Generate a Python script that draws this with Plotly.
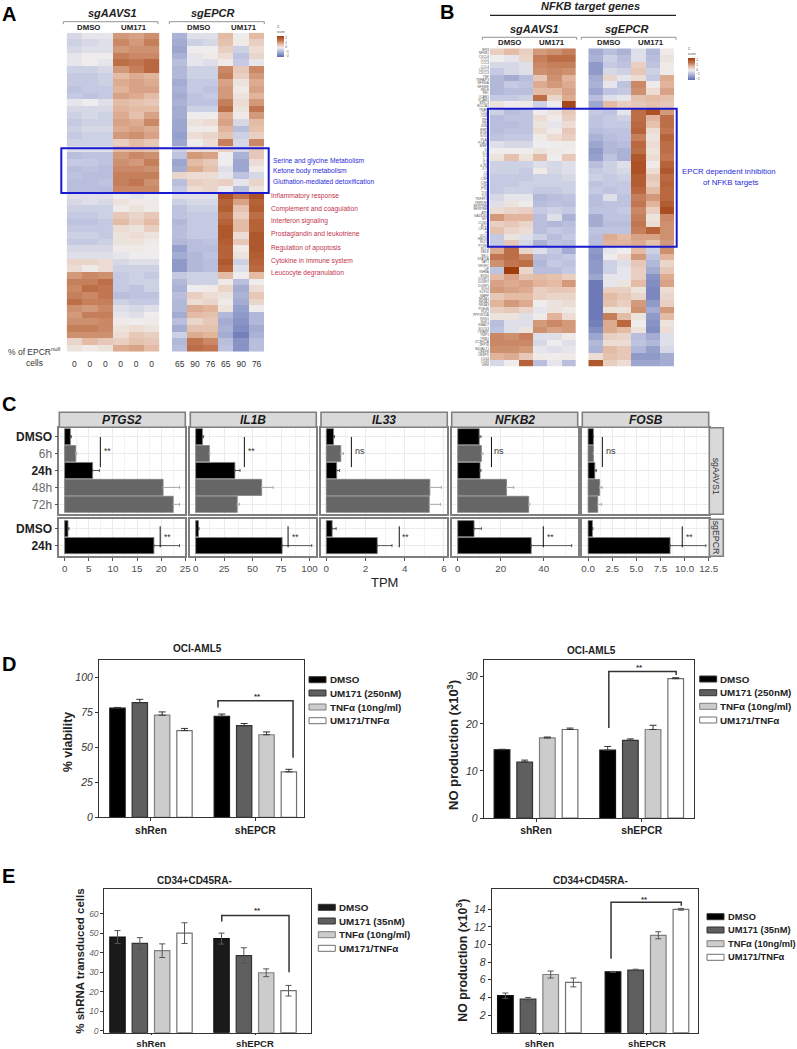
import numpy as np
import plotly.graph_objects as go

W, H = 797, 1049

# ---------- Panel A heatmap values (z-scores) ----------
A_AAVS = [
[-0.5,-0.3,-0.3,1.0,0.9,1.1],[-0.6,-0.5,-0.4,1.2,1.0,1.3],[-0.5,-0.4,-0.4,1.0,1.1,1.1],[-0.3,-0.2,-0.2,1.3,1.2,1.2],
[-0.3,-0.2,-0.3,1.5,1.4,1.6],[-0.6,-0.6,-0.5,1.0,1.3,1.6],[-0.7,-0.7,-0.6,0.6,0.8,0.7],[-0.7,-0.7,-0.6,0.8,0.9,0.8],
[-0.8,-0.7,-0.7,0.7,0.9,0.9],[-0.7,-0.8,-0.7,0.9,0.8,0.6],[-0.3,-0.2,-0.4,0.6,0.5,0.4],[-0.5,-0.5,-0.5,0.7,0.6,0.6],
[-0.6,-0.5,-0.6,0.8,0.5,0.9],[-0.7,-0.6,-0.6,0.9,0.8,1.2],[-0.6,-0.5,-0.5,0.8,0.9,0.8],[-0.7,-0.6,-0.6,1.0,1.1,0.9],
[-0.6,-0.6,-0.6,0.3,0.6,0.4],[-0.4,-0.4,-0.4,0.6,0.6,0.5],[-0.9,-0.8,-0.8,1.0,1.2,1.1],[-0.7,-0.7,-0.8,1.1,1.0,1.3],
[-0.9,-0.8,-0.9,1.2,1.2,1.1],[-0.8,-0.9,-0.9,1.3,1.3,1.3],[-0.9,-0.9,-0.8,1.3,1.4,1.1],[-0.9,-0.9,-0.9,1.2,1.2,1.2],
[-0.4,-0.4,-0.4,-0.2,-0.3,-0.2],[-0.5,-0.4,-0.5,0.0,-0.1,-0.1],[-0.6,-0.6,-0.6,-0.1,0.0,-0.1],[-0.7,-0.7,-0.6,0.4,0.2,0.4],
[-0.8,-0.8,-0.7,0.6,0.3,0.6],[-0.7,-0.7,-0.7,0.1,0.0,0.3],[-0.6,-0.6,-0.7,0.0,0.1,0.0],[-0.7,-0.7,-0.6,0.0,0.0,-0.1],
[-0.5,-0.5,-0.5,-0.1,-0.1,-0.2],[-0.4,-0.4,-0.4,-0.3,-0.2,-0.2],[0.2,0.2,0.1,-0.5,-0.4,-0.4],[0.1,-0.1,0.1,-0.6,-0.6,-0.6],
[1.0,1.2,1.1,-0.7,-0.6,-0.7],[1.3,1.3,1.5,-0.7,-0.6,-0.6],[1.2,1.5,1.4,-0.7,-0.8,-0.6],[1.3,1.2,1.4,-0.9,-0.8,-0.8],
[1.5,1.3,1.3,-0.6,-0.7,-0.7],[1.1,1.0,1.2,-0.4,-0.5,-0.4],[1.0,1.3,1.3,-0.3,-0.4,-0.2],[1.1,1.1,1.2,-0.1,-0.2,-0.1],
[1.3,1.3,1.2,0.0,0.1,0.0],[1.1,1.1,1.1,0.1,0.4,0.3],[0.2,0.6,0.4,0.3,0.5,0.4],[0.0,-0.1,0.0,0.8,0.9,0.6]]
A_EPCR = [
[-1.1,-0.4,-0.4,0.6,-0.2,0.6],[-1.2,-0.6,-0.5,0.5,-0.1,0.3],[-1.3,-0.2,-0.2,0.3,-0.6,0.1],[-1.1,-0.3,-0.1,0.1,-0.8,0.2],
[-0.9,-0.3,-0.4,-0.1,-0.7,-0.3],[-1.0,-0.6,-0.6,1.2,0.4,1.2],[-1.0,-0.6,-0.6,1.3,0.3,1.0],[-1.2,-0.7,-0.7,0.9,0.0,0.8],
[-1.1,-0.7,-0.8,1.0,-0.1,0.9],[-1.2,-0.8,-0.7,1.0,0.0,0.7],[-1.1,-0.8,-0.8,1.3,0.1,1.0],[-1.2,-0.6,-0.6,1.5,0.0,1.4],
[-1.2,-0.2,-0.2,0.8,-0.1,1.0],[-1.3,0.0,0.1,0.9,-0.5,0.6],[-1.3,-0.1,-0.1,0.7,-0.9,0.5],[-1.4,0.1,0.2,0.5,-0.6,0.3],
[-1.3,-0.2,0.1,1.3,-0.5,1.2],[-0.6,0.1,0.1,0.3,-0.5,0.4],[-0.8,1.0,0.9,-0.2,-1.1,0.4],[-1.3,0.6,0.4,-0.2,-1.3,0.1],
[-1.2,0.8,0.5,-0.4,-1.3,-0.1],[0.2,0.1,0.1,-0.3,-0.8,-0.5],[-0.9,0.3,0.2,0.3,-0.3,0.2],[-0.7,0.1,0.2,-0.2,-0.9,0.0],
[-0.4,-0.4,-0.4,2.0,1.4,2.0],[-0.6,-0.5,-0.5,1.7,0.9,1.7],[-0.8,-0.6,-0.6,1.8,0.5,1.8],[-0.8,-0.7,-0.7,1.5,0.3,1.5],
[-1.0,-0.7,-0.7,1.7,0.6,1.7],[-0.9,-0.7,-0.7,1.9,0.6,1.7],[-0.9,-0.7,-0.7,1.9,0.1,1.9],[-1.0,-0.9,-0.8,1.8,0.4,1.9],
[-1.4,-0.9,-0.9,1.7,-0.1,1.9],[-1.2,-1.0,-0.8,1.7,0.0,1.8],[-1.5,-1.0,-0.9,1.9,-0.6,1.7],[-1.5,-1.0,-0.9,1.7,-0.4,1.6],
[-0.7,-0.6,-0.6,0.6,-0.2,0.6],[-1.0,-0.6,-0.6,-0.1,-0.9,-0.2],[-1.1,-0.2,-0.1,0.2,-1.2,0.1],[-0.9,0.3,0.1,0.0,-1.1,0.4],
[-1.0,0.1,0.2,-0.1,-1.2,0.2],[-1.0,0.8,0.7,0.0,-1.4,-0.2],[-1.2,0.6,0.5,-1.0,-1.5,-1.0],[-0.9,0.2,0.4,-1.2,-1.6,-1.0],
[-1.2,0.5,0.5,-1.1,-1.7,-1.2],[-0.6,0.8,0.7,-1.2,-1.9,-1.1],[-1.0,1.4,1.2,-0.9,-1.6,-0.9],[-0.9,1.5,1.4,-0.8,-1.6,-0.9]]

# ---------- Panel B heatmap values ----------
B_AAVS = [
[0.3,0.6,0.3,1.0,1.1,1.3],[-0.2,-0.3,0.2,1.3,1.5,1.5],[-0.5,-0.5,-0.4,1.2,1.3,1.3],[-0.7,-0.5,-0.4,1.1,1.2,1.1],
[-1.0,-1.2,-0.9,0.4,1.1,0.7],[-1.0,-0.7,-0.8,0.8,1.0,0.8],[-1.0,-0.9,-0.9,0.6,0.6,0.9],[-0.7,-0.7,-0.6,1.5,0.2,0.8],
[0.0,-0.2,-0.1,-0.6,-0.2,2.2],[-0.6,-0.9,-0.8,-0.2,0.0,0.4],[-0.9,-0.8,-0.8,0.1,-0.1,0.3],[-0.9,-0.9,-0.8,0.0,-0.3,0.1],
[-0.9,-0.8,-0.8,0.1,-0.1,0.4],[-0.8,-0.7,-0.7,-0.1,0.1,0.3],[-0.4,-0.5,-0.5,-0.2,-0.2,-0.1],[-0.2,-0.2,-0.2,0.0,-0.1,-0.2],
[0.0,0.5,0.0,0.6,-0.2,0.4],[-0.6,-0.6,-0.6,-0.4,-0.5,-0.4],[-0.6,-0.6,-0.7,-0.1,-0.5,-0.4],[-0.7,-0.7,-0.7,-0.6,-0.6,-0.5],
[-0.7,-0.7,-0.6,-0.6,-0.6,-0.6],[-0.7,-0.6,-0.6,-0.7,-0.7,-0.6],[-0.5,-0.3,-0.3,-1.0,-0.9,-0.8],[-0.4,0.0,-0.2,-0.9,-0.8,-0.9],
[0.1,0.2,0.3,-0.7,-0.6,-0.7],[1.0,0.7,0.7,-0.9,-0.4,-1.1],[0.3,0.4,0.2,-0.9,-1.0,-0.9],[0.5,0.2,0.1,-0.9,-0.7,-0.8],
[-0.7,0.0,-0.4,-0.6,-0.9,-0.7],[-0.7,0.4,-0.5,-1.1,-0.8,-0.9],[0.8,1.5,0.2,-0.4,-0.7,-1.2],[1.4,1.5,1.2,-0.9,-0.8,-0.7],
[1.1,1.4,1.5,-1.0,-0.7,-0.8],[-0.8,2.5,0.2,-0.9,-0.9,-0.7],[0.6,0.9,0.5,0.6,0.5,0.3],[0.9,0.8,0.9,0.7,0.6,1.0],
[1.0,0.9,0.8,0.3,0.4,0.4],[0.4,0.6,0.6,0.3,0.2,0.2],[0.7,1.0,0.8,-0.2,0.0,0.1],[0.3,0.4,0.2,-0.3,0.0,-0.1],
[0.0,0.0,-0.4,-0.1,0.7,0.1],[-0.9,-0.4,-0.4,1.0,1.2,1.0],[-0.8,-0.4,0.0,1.1,0.9,1.0],[1.2,1.1,1.3,-0.4,-0.4,-0.1],
[1.2,1.2,1.2,-0.5,-0.2,-0.4],[1.1,1.1,1.0,-0.3,-0.4,-0.3],[0.7,0.8,0.4,-0.1,-0.2,-0.1],[-0.5,-0.2,1.7,-0.9,-0.3,-0.9]]
B_EPCR = [
[-1.2,-0.9,-1.1,-0.4,-1.0,-0.1],[-1.1,-0.6,-0.9,-0.4,-0.9,0.0],[-1.5,-0.7,-0.8,0.3,-0.8,-0.1],[-1.5,-0.5,-0.6,0.4,-0.6,-0.1],
[-1.2,0.2,-0.3,0.1,-0.7,0.8],[-1.1,-0.3,-0.8,1.2,-0.1,0.7],[-1.3,-0.8,-0.7,1.1,0.1,0.9],[-0.9,-0.4,-0.3,0.5,0.6,0.5],
[-1.3,0.6,0.3,0.4,0.5,0.4],[-0.7,-0.8,-0.3,1.5,2.0,1.0],[-0.8,-0.7,-0.6,1.5,0.7,1.5],[-0.8,-0.7,-0.7,1.6,0.5,1.5],
[-0.9,-0.8,-0.8,1.7,0.1,1.4],[-1.1,-0.9,-0.8,1.3,0.0,1.7],[-1.3,-1.0,-0.9,1.6,0.1,1.5],[-1.5,-1.0,-1.1,1.5,0.0,1.5],
[-1.4,-0.8,-1.1,1.9,0.1,1.4],[-0.9,-0.6,-0.4,2.0,-0.1,1.7],[-0.7,-0.6,-0.5,2.0,0.1,1.9],[-0.6,-0.7,-0.6,1.8,0.4,1.6],
[-0.8,-0.7,-0.7,1.8,0.3,1.7],[-0.7,-0.8,-0.7,1.6,0.6,1.6],[-0.9,-0.4,-0.8,1.3,1.0,1.6],[-0.9,-0.8,-0.8,1.4,0.7,1.8],
[-0.8,-0.8,-0.7,1.2,0.3,2.1],[-1.2,-0.8,-0.8,1.3,0.0,1.2],[-1.2,-0.9,-0.9,1.4,0.1,1.1],[-0.8,-0.8,-0.8,1.3,1.7,1.1],
[-0.9,0.8,0.6,0.9,0.9,1.1],[-0.9,0.7,0.7,0.8,0.5,1.0],[-1.5,-0.3,-0.2,0.6,-0.6,1.1],[-1.6,-0.2,0.1,1.0,-0.8,0.7],
[-1.5,-0.6,-0.4,0.4,-1.0,0.2],[-1.5,-0.6,-0.3,0.3,-1.2,0.4],[-1.3,-0.3,-0.3,0.3,-1.6,0.8],[-2.0,-0.3,0.0,0.6,-1.7,0.9],
[-2.0,0.3,0.3,0.0,-1.8,0.1],[-2.0,0.6,0.4,0.2,-1.8,0.2],[-2.0,0.5,0.3,1.0,-1.5,0.3],[-2.0,0.0,0.0,1.1,-1.2,1.0],
[-2.0,1.3,0.6,0.0,-1.5,0.6],[-1.9,0.8,1.6,-0.2,-1.6,0.0],[-1.7,0.8,0.6,0.0,-1.7,0.1],[-1.3,0.3,0.2,-0.9,-1.2,-0.4],
[-1.0,0.1,0.1,-0.8,-1.0,-0.4],[-1.1,0.6,0.4,-1.0,-1.4,-0.5],[0.1,0.5,0.4,-1.5,-1.5,-1.2],[1.9,0.3,0.1,-1.3,-1.3,-1.2]]

GENES = ["IER3","NFKB1","CXCL8","CCL2","CCL3","CCL4","CXCL2","CXCL3","TNF","TNFAIP3","NFKBIA","NFKBIE",
"RELB","REL","ICAM1","VCAM1","BIRC3","BCL2A1","TRAF1","CD40","CD83","IRF1","IRF4","JUNB","BMP2","EGR1","SOD2","PLAU",
"PLAUR","MMP9","IL6","IL1A","IL10","IL15","IL18","IL2RA","IL7R","LTA","LTB","CSF1","CSF2","CSF3","PTX3","TLR2",
"TLR4","TNFSF10","TNFRSF9","SERPINB2","SERPINE1","ATF3","GADD45B","MYC","CCND1","BCL3","CFLAR","F3","GCLM","HMOX1","NQO1","PTGES",
"SDC4","SELE","SELL","STAT5A","TAP1","VEGFC","LIF","INHBA","EDN1","DUSP1","DUSP2","DUSP5","KLF4","KLF10","MAFF","NR4A1",
"NR4A2","NR4A3","PDE4B","PLK2","PPP1R15A","RGS1","SGK1","SMAD7","SOCS3","TIPARP","TNIP1","TRIB1","ZC3H12A","ZFP36","B4GALT1","CEBPB",
"CEBPD","CD44","CD69","GEM"]

A_PCT_AAVS = ["0", "0", "0", "0", "0", "0"]
A_PCT_EPCR = ["65", "90", "76", "65", "90", "76"]
A_BLUE = ["Serine and glycine Metabolism", "Ketone body metabolism", "Gluthation-mediated detoxification"]
A_RED = ["Inflammatory response", "Complement and coagulation", "Interferon signaling", "Prostaglandin and leukotriene",
         "Regulation of apoptosis", "Cytokine in immune system", "Leucocyte degranulation"]

# ---------- Panel C values ----------
C_GENES = ["PTGS2", "IL1B", "IL33", "NFKB2", "FOSB"]
C_UP_TIMES = ["DMSO", "6h", "24h", "48h", "72h"]
C_LOW_TIMES = ["DMSO", "24h"]
C_UP_VAL = {"PTGS2": [1.2, 2.3, 5.8, 20.4, 22.5], "IL1B": [6, 12, 34.5, 58, 36.5], "IL33": [0.37, 0.74, 0.53, 5.28, 5.25],
            "NFKB2": [10, 11, 10.4, 22.7, 33], "FOSB": [0.55, 0.55, 0.7, 1.2, 1.0]}
C_UP_TOP = {"PTGS2": [1.4, 2.5, 7.2, 23.8, 23.8], "IL1B": [7, 12.5, 39, 68, 38.5], "IL33": [0.42, 0.87, 0.68, 5.87, 5.82],
            "NFKB2": [10.8, 11.7, 10.8, 26, 33.5], "FOSB": [0.55, 0.55, 0.85, 1.45, 1.4]}
C_LOW_VAL = {"PTGS2": [0.7, 18.5], "IL1B": [2.5, 76], "IL33": [0.3, 2.6], "NFKB2": [7.6, 34.2], "FOSB": [0.45, 8.5]}
C_LOW_TOP = {"PTGS2": [0.9, 23.8], "IL1B": [3, 102], "IL33": [0.5, 3.35], "NFKB2": [11, 53], "FOSB": [0.5, 12.2]}

# ---------- Panels D / E values ----------
GROUPS = ["shRen", "shEPCR"]
TREAT_D = ["DMSO", "UM171 (250nM)", "TNF\u03b1 (10ng/ml)", "UM171/TNF\u03b1"]
TREAT_E = ["DMSO", "UM171 (35nM)", "TNF\u03b1 (10ng/ml)", "UM171/TNF\u03b1"]
D1_VAL = [[78, 72.2], [82, 65.5], [73, 59], [62, 32.5]]
D1_ERR = [[0.5, 1.6], [2.3, 1.5], [2.3, 2], [1.5, 1.8]]
D2_VAL = [[14.5, 14.4], [11.9, 16.5], [17, 18.8], [18.8, 29.6]]
D2_ERR = [[0.1, 0.8], [0.4, 0.3], [0.2, 0.9], [0.3, 0.2]]
E1_VAL = [[48, 47.2], [44.7, 38.5], [41, 29.7], [50, 20.5]]
E1_ERR = [[3.3, 2.8], [3, 4], [3.5, 2], [5.3, 2.7]]
E2_VAL = [[4.2, 6.9], [3.8, 7.1], [6.6, 11.05], [5.7, 14]]
E2_ERR = [[0.3, 0.05], [0.2, 0.1], [0.4, 0.4], [0.5, 0.1]]

# ---------- helpers ----------
FONT = "Liberation Sans"
def xp(p): return p / W
def yp(p): return 1 - p / H

layout = dict(width=W, height=H, margin=dict(l=0, r=0, t=0, b=0, autoexpand=False), paper_bgcolor="white", plot_bgcolor="white",
              showlegend=False, font=dict(family=FONT, color="#222"))
shapes, annots, traces = [], [], []
ax_n = [0]

def new_axes(x0, x1, y0, y1, xopts, yopts):
    ax_n[0] += 1
    n = ax_n[0]
    sx = "" if n == 1 else str(n)
    xa = dict(domain=[xp(x0), xp(x1)], anchor="y" + sx, zeroline=False, showgrid=False)
    ya = dict(domain=[yp(y1), yp(y0)], anchor="x" + sx, zeroline=False, showgrid=False)
    xa.update(xopts); ya.update(yopts)
    layout["xaxis" + sx] = xa
    layout["yaxis" + sx] = ya
    return "x" + sx, "y" + sx

def txt(x, y, s, size, color="#222", anchor="center", family=FONT, angle=0):
    annots.append(dict(x=xp(x), y=yp(y), xref="paper", yref="paper", text=s, showarrow=False, xanchor=anchor,
                       yanchor="middle", font=dict(size=size, color=color, family=family), textangle=angle, borderpad=0))

def line_px(x0, y0, x1, y1, color="#777", width=0.8):
    shapes.append(dict(type="line", xref="paper", yref="paper", x0=xp(x0), x1=xp(x1), y0=yp(y0), y1=yp(y1),
                       line=dict(color=color, width=width)))

def rect_px(x0, y0, x1, y1, fill, lc, lw):
    shapes.append(dict(type="rect", xref="paper", yref="paper", x0=xp(x0), x1=xp(x1), y0=yp(y0), y1=yp(y1),
                       fillcolor=fill, line=dict(color=lc, width=lw)))

def bracket_px(x0, x1, y, drop=2.5):
    shapes.append(dict(type="path", xref="paper", yref="paper",
                       path=f"M{xp(x0)},{yp(y+drop)} L{xp(x0)},{yp(y)} L{xp(x1)},{yp(y)} L{xp(x1)},{yp(y+drop)}",
                       line=dict(color="#777", width=0.8)))

# Colour scale
CS = [[0, "#5f6db0"], [0.15, "#8f99c8"], [0.32, "#c3c8e1"], [0.44, "#f0eeee"], [0.62, "#e3b8a0"], [0.8, "#bd6f48"], [1, "#a03c0c"]]
ZMIN, ZMAX = -2.2, 2.4

def heat(x0, x1, y0, y1, z, xopts=None, yopts=None, cbar=None):
    xo = dict(range=[-0.5, 5.5], showticklabels=False, ticks="")
    yo = dict(range=[47.5, -0.5], showticklabels=False, ticks="")
    xo.update(xopts or {}); yo.update(yopts or {})
    xr, yr = new_axes(x0, x1, y0, y1, xo, yo)
    t = go.Heatmap(z=z, xaxis=xr, yaxis=yr, colorscale=CS, zmin=ZMIN, zmax=ZMAX, showscale=cbar is not None, hoverinfo="z")
    if cbar:
        t.colorbar = cbar
    traces.append(t)

def cbar(x, y0, y1):
    return dict(x=xp(x), xanchor="left", y=yp((y0 + y1) / 2), yanchor="middle", len=(y1 - y0) / H, lenmode="fraction",
                thickness=7, thicknessmode="pixels", outlinewidth=0, xpad=0, ypad=0,
                tickvals=[-2, -1, 0, 1, 2], tickfont=dict(size=3.2, color="#444"), ticks="", ticklabelposition="outside",
                title=dict(text="Z-<br>score", side="top", font=dict(size=3.2, color="#444")))

# ---------- Panel A ----------
pct_opts = lambda labs: dict(tickmode="array", tickvals=list(range(6)), ticktext=labs, showticklabels=True, ticks="outside",
                             ticklen=4, tickcolor="rgba(0,0,0,0)", tickfont=dict(size=8.5, color="#333"), tickangle=0)
heat(66.7, 159.3, 32.7, 351.7, A_AAVS, pct_opts(A_PCT_AAVS))
heat(172, 264.3, 32.7, 351.7, A_EPCR, pct_opts(A_PCT_EPCR), cbar=cbar(277, 23, 57))
txt(112.7, 13.3, "<b><i>sgAAVS1</i></b>", 11)
txt(212.7, 13.3, "<b><i>sgEPCR</i></b>", 11)
bracket_px(63.3, 158, 21.7); bracket_px(169.3, 264.3, 21.7)
for x, s in [(88.7, "DMSO"), (134.3, "UM171"), (198, "DMSO"), (244.3, "UM171")]:
    txt(x, 27.7, f"<b>{s}</b>", 7.8, "#222")
rect_px(61.3, 148.3, 268.7, 193, "rgba(0,0,0,0)", "#1a1ad0", 2)
for y, s in zip([161.3, 170.7, 181], A_BLUE):
    txt(271.7, y, s, 6.7, "#2a2ad8", "left")
for y, s in zip([196, 209.3, 221.3, 234.3, 247.7, 260.7, 272.7], A_RED):
    txt(270, y, s, 6.7, "#c2334d", "left")
txt(34, 351.5, "% of EPCR<sup>null</sup>", 8.5, "#333")
txt(34, 362.5, "cells", 8.5, "#333")

# ---------- Panel B ----------
gene_opts = dict(tickmode="array", tickvals=[i / 2 - 0.25 for i in range(96)], ticktext=GENES, showticklabels=True,
                 tickfont=dict(size=3.2, color="#555"), ticks="", automargin=False)
heat(490, 575.7, 48.3, 366.7, B_AAVS, None, gene_opts)
heat(588.3, 674, 48.3, 366.7, B_EPCR, cbar=cbar(688, 45, 80))
txt(590, 6.5, "<b><i>NFKB target genes</i></b>", 11)
line_px(490, 15.3, 676, 15.3, "#222", 1.3)
txt(534.7, 29, "<b><i>sgAAVS1</i></b>", 11)
txt(626.7, 29, "<b><i>sgEPCR</i></b>", 11)
bracket_px(482.3, 576.7, 37.3); bracket_px(581.3, 676, 37.3)
for x, s in [(509.7, "DMSO"), (552.3, "UM171"), (608.3, "DMSO"), (650.7, "UM171")]:
    txt(x, 43, f"<b>{s}</b>", 7.8, "#222")
rect_px(488, 108.7, 676.7, 246.7, "rgba(0,0,0,0)", "#1a1ad0", 2)
txt(729.3, 171.7, "EPCR dependent inhibition", 7.8, "#2a2ad8")
txt(730.5, 182.3, "of NFKB targets", 7.8, "#2a2ad8")

# ---------- Panel C ----------
C_X = {"PTGS2": (59.3, 185.3), "IL1B": (190.3, 316.3), "IL33": (321, 447.3), "NFKB2": (451.7, 577.7), "FOSB": (582.3, 708.7)}
C_RANGE = {"PTGS2": [-1.1, 25], "IL1B": [-4.7, 106], "IL33": [-0.27, 6.17], "NFKB2": [-2.8, 55.8], "FOSB": [-0.6, 12.5]}
C_DTICK = {"PTGS2": 5, "IL1B": 25, "IL33": 2, "NFKB2": 20, "FOSB": 2.5}
C_FMT = {"PTGS2": "d", "IL1B": "d", "IL33": "d", "NFKB2": "d", "FOSB": ".1f"}
C_SIG_UP = {"PTGS2": (7.4, 8.8, "**"), "IL1B": (42.8, 49, "**"), "IL33": (1.28, 1.72, "ns"), "NFKB2": (15.7, 19.4, "ns"), "FOSB": (1.48, 2.4, "ns")}
C_SIG_LOW = {"PTGS2": (19.8, 21.3, "**"), "IL1B": (81.2, 87.7, "**"), "IL33": (3.72, 4.06, "**"), "NFKB2": (39.8, 43.1, "**"), "FOSB": (9.76, 10.5, "**")}
GRID, GRID2, EDGE = "#ebebeb", "#f3f3f3", "#7f7f7f"
UP_TOP, UP_BOT, LOW_TOP, LOW_BOT = 427.7, 514.3, 519.3, 556.3
GREY_LABEL = "#6a6a6a"
up_labels = [f"<b>{t}</b>" if t in ("DMSO", "24h") else f'<span style="color:{GREY_LABEL}">{t}</span>' for t in C_UP_TIMES]
low_labels = [f"<b>{t}</b>" for t in C_LOW_TIMES]

for i, g in enumerate(C_GENES):
    x0, x1 = C_X[g]
    base_x = dict(range=C_RANGE[g], dtick=C_DTICK[g], tick0=0, showgrid=True, gridcolor=GRID, gridwidth=1,
                  minor=dict(dtick=C_DTICK[g] / 2, showgrid=True, gridcolor=GRID2, gridwidth=0.6),
                  showline=True, mirror=True, linecolor=EDGE, linewidth=1.6)
    ux = dict(base_x, showticklabels=False, ticks="")
    lx = dict(base_x, showticklabels=True, ticks="outside", ticklen=2.5, tickcolor="#555", tickformat=C_FMT[g],
              tickfont=dict(size=9.8, color="#4d4d4d"))
    uy = dict(range=[4.59, -0.53], tickmode="array", tickvals=list(range(5)), showgrid=True, gridcolor=GRID, gridwidth=1,
              showline=True, mirror=True, linecolor=EDGE, linewidth=1.6)
    ly = dict(range=[1.63, -0.55], tickmode="array", tickvals=[0, 1], showgrid=True, gridcolor=GRID, gridwidth=1,
              showline=True, mirror=True, linecolor=EDGE, linewidth=1.6)
    if i == 0:
        uy.update(ticktext=up_labels, ticks="outside", ticklen=3, tickcolor="#555", tickfont=dict(size=12, color="#222"))
        ly.update(ticktext=low_labels, ticks="outside", ticklen=3, tickcolor="#555", tickfont=dict(size=12, color="#222"))
    else:
        uy.update(showticklabels=False, ticks="")
        ly.update(showticklabels=False, ticks="")
    xa, ya = new_axes(x0, x1, UP_TOP, UP_BOT, ux, uy)
    val, top = C_UP_VAL[g], C_UP_TOP[g]
    for idxs, col, ecol in [((0, 2), "#000000", "#555555"), ((1, 3, 4), "#666666", "#aaaaaa")]:
        traces.append(go.Bar(x=[val[k] for k in idxs], y=list(idxs), orientation="h", width=0.95, xaxis=xa, yaxis=ya,
                             marker=dict(color=col, line=dict(color="#808080", width=0.8)), name=g,
                             error_x=dict(type="data", symmetric=False, array=[top[k] - val[k] for k in idxs],
                                          arrayminus=[0] * len(idxs), color=ecol, thickness=1, width=1.5)))
    lx0, sx, sl = C_SIG_UP[g]
    shapes.append(dict(type="line", xref=xa, yref=ya, x0=lx0, x1=lx0, y0=0.02, y1=1.8, line=dict(color="#111", width=1)))
    annots.append(dict(x=sx, y=0.87, xref=xa, yref=ya, text=sl, showarrow=False, xanchor="center",
                       font=dict(size=9 if sl != "**" else 8.5, color="#333")))
    xa, ya = new_axes(x0, x1, LOW_TOP, LOW_BOT, lx, ly)
    val, top = C_LOW_VAL[g], C_LOW_TOP[g]
    traces.append(go.Bar(x=val, y=[0, 1], orientation="h", width=0.95, xaxis=xa, yaxis=ya,
                         marker=dict(color="#000000", line=dict(color="#808080", width=0.8)), name=g,
                         error_x=dict(type="data", symmetric=False, array=[t - v for t, v in zip(top, val)],
                                      arrayminus=[0, 0], color="#555555", thickness=1, width=1.5)))
    lx0, sx, sl = C_SIG_LOW[g]
    shapes.append(dict(type="line", xref=xa, yref=ya, x0=lx0, x1=lx0, y0=-0.14, y1=1.1, line=dict(color="#111", width=1)))
    annots.append(dict(x=sx, y=0.5, xref=xa, yref=ya, text=sl, showarrow=False, xanchor="center",
                       font=dict(size=8.5, color="#333")))
    rect_px(x0, 412.3, x1, 427.2, "#d9d9d9", EDGE, 1.6)
    txt((x0 + x1) / 2, 419.8, f"<b><i>{g}</i></b>", 12, "#1a1a1a")
rect_px(709.3, 427.7, 723.3, 514.3, "#d9d9d9", EDGE, 1.6)
rect_px(709.3, 519.3, 723.3, 556.3, "#d9d9d9", EDGE, 1.6)
txt(716.3, 476, "sgAAVS1", 8.8, "#333", angle=90)
txt(716.3, 538, "sgEPCR", 8.8, "#333", angle=90)
txt(384.7, 582, "TPM", 13, "#222")

# ---------- Panels D / E ----------
B_FILL = ["#000000", "#5f5f5f", "#cccccc", "#ffffff"]
B_EDGE = ["#111111", "#333333", "#808080", "#707070"]

def barpanel(frame, xr, yr, vals, errs, treat, title, title_xy, ytitle, ylab_xy, ysize, yticks, ticksize, tickcolor,
             step, width, sym, bracket, star, leg_x, leg_ys, base=0, err_color="#333", dark="#000000",
             xlabel_size=10.4, xticklen=3, leg_size=9.8):
    x0, x1, y0, y1 = frame
    xo = dict(range=xr, tickmode="array", tickvals=[0, 1], ticktext=[f"<b>{g}</b>" for g in GROUPS], ticks="outside", ticklen=xticklen,
              tickcolor="#333", tickfont=dict(size=xlabel_size, color="#222"), showline=True, mirror=True, linecolor="#333", linewidth=1)
    yo = dict(range=yr, tickmode="array", tickvals=yticks, ticktext=[f"<i>{v}</i>" for v in yticks], ticks="outside", ticklen=3,
              tickcolor="#333", tickfont=dict(size=ticksize, color=tickcolor), showline=True, mirror=True, linecolor="#333", linewidth=1)
    xa, ya = new_axes(x0, x1, y0, y1, xo, yo)
    for i, (name, v, e) in enumerate(zip(treat, vals, errs)):
        ed = dict(type="data", symmetric=True, array=e, color=err_color, thickness=1, width=3) if sym else \
             dict(type="data", symmetric=False, array=e, arrayminus=[0, 0], color=err_color, thickness=1, width=3.5)
        fill = dark if i == 0 else B_FILL[i]
        traces.append(go.Bar(x=[g + (i - 1.5) * step for g in (0, 1)], y=[a - base for a in v], base=base, width=width, name=name,
                             xaxis=xa, yaxis=ya, error_y=ed, marker=dict(color=fill, line=dict(color=B_EDGE[i], width=1.2))))
    bx0, bx1, by, byl, byr = bracket
    shapes.append(dict(type="path", xref=xa, yref=ya, path=f"M{bx0},{byl} L{bx0},{by} L{bx1},{by} L{bx1},{byr}",
                       line=dict(color="#333", width=1.5)))
    annots.append(dict(x=star[0], y=star[1], xref=xa, yref=ya, text="<b>**</b>", showarrow=False, font=dict(size=8, color="#333")))
    txt(title_xy[0], title_xy[1], f"<b>{title}</b>", 10, "#222")
    txt(ylab_xy[0], ylab_xy[1], f"<b>{ytitle}</b>", ysize, "#222", angle=-90)
    for i, (name, y) in enumerate(zip(treat, leg_ys)):
        rect_px(leg_x, y - 3, leg_x + 17, y + 3, dark if i == 0 else B_FILL[i], B_EDGE[i] if i > 1 else "#333", 1)
        txt(leg_x + 19.5, y, f"<b>{name}</b>", leg_size, "#222", "left")

barpanel((99, 304, 660, 817.3), [-0.498, 1.466], [0, 112.4], D1_VAL, D1_ERR, TREAT_D, "OCI-AML5", (197, 648),
         "% viability", (68, 742), 12.3, [0, 25, 50, 75, 100], 10.5, "#333", 67 / 313, 46 / 313, False,
         (0.642, 1.361, 83.3, 78.5, 42.6), (1.02, 86.5), 309, [679.7, 693, 707, 720.7])
barpanel((483.7, 693.7, 660.3, 818), [-0.495, 1.492], [0, 33.5], D2_VAL, D2_ERR, TREAT_D, "OCI-AML5", (591.7, 650.7),
         "NO production (x10<sup>3</sup>)", (453, 745), 13, [0, 10, 20, 30], 10.5, "#333", 68 / 317, 47 / 317, False,
         (0.689, 1.326, 31.1, 19.1, 30.4), (0.975, 32), 699.7, [679, 692.7, 706.3, 720])
barpanel((104.3, 311, 889, 1032.7), [-0.449, 1.538], [-1, 72.6], E1_VAL, E1_ERR, TREAT_E, "CD34+CD45RA-", (194, 880.7),
         "% shRNA transduced cells", (80, 961.7), 11.5, [0, 10, 20, 30, 40, 50, 60], 8.5, "#666", 67 / 312, 46 / 312, True,
         (0.68, 1.327, 59, 55.9, 29.9), (1.02, 61.8), 318.3, [907.3, 921, 934.7, 948.3], base=-1, err_color="#555", dark="#1a1a1a",
         xlabel_size=9.6, xticklen=1.5)
barpanel((491.7, 698.3, 889, 1032.7), [-0.443, 1.477], [0, 16.3], E2_VAL, E2_ERR, TREAT_E, "CD34+CD45RA-", (590.7, 880.7),
         "NO production (x10<sup>3</sup>)", (461.7, 960), 12.3, [2, 4, 6, 8, 10, 12, 14], 10.5, "#333", 68 / 323, 47 / 323, True,
         (0.666, 1.319, 14.8, 8.4, 14.4), (0.98, 15.1), 707, [916.7, 930, 943.7, 957.3], err_color="#555",
         xlabel_size=9.6, xticklen=1.5, leg_size=9.3)

# Panel letters
for x, y, s in [(1, 14, "A"), (439, 12, "B"), (1, 404, "C"), (1, 663.5, "D"), (1, 875.5, "E")]:
    txt(x, y, f"<b>{s}</b>", 20, "#000", "left")

layout["shapes"] = shapes
layout["annotations"] = annots
fig = go.Figure(data=traces, layout=layout)
fig.write_html("out.html", config={"displayModeBar": False},
               post_script="document.body.style.margin='0';document.body.style.overflow='hidden';")
